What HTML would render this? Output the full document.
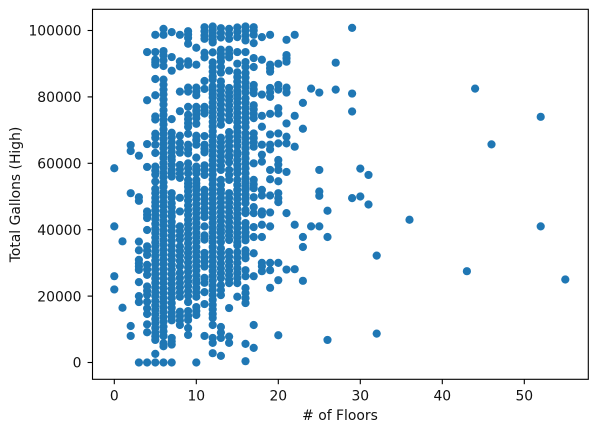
<!DOCTYPE html>
<html>
<head>
<meta charset="utf-8">
<title>Floors vs Total Gallons</title>
<style>
html,body{margin:0;padding:0;background:#fff;width:597px;height:432px;overflow:hidden}
svg{display:block}
text{font-family:"DejaVu Sans","Liberation Sans",sans-serif;font-size:13.9px;fill:#111}
</style>
</head>
<body>
<svg id="chart" width="597" height="432" viewBox="0 0 597 432" xmlns="http://www.w3.org/2000/svg">
<g id="points"></g>
<g id="axes"></g>
<text x="340" y="420" text-anchor="middle"># of Floors</text>
<text x="0" y="0" text-anchor="middle" transform="translate(20,194.5) rotate(-90)">Total Gallons (High)</text>
</svg>
<script>
const xTicks = [0, 10, 20, 30, 40, 50];
const yTicks = [0, 20000, 40000, 60000, 80000, 100000];

// Gallons (thousands) read per floor count
const f0 = [58.5, 41, 26, 22];
const f1 = [36.5, 16.5];
const f2 = [65.5, 63.7, 51, 11, 8];
const f3 = [62.3, 49.8, 48.7, 36.4, 33.8, 30.9, 29.9, 28.9, 27.9, 24.2, 20, 18.2, 0];
const f4 = [93.5, 79, 65.8, 58.9, 45.5, 44.5, 43.5, 39.9, 35, 33.7, 32.4, 29.4, 28, 26.4, 22.9, 21.6, 20.4, 18.3, 16.3, 14.6, 11.5, 9.1, 0];
const f5 = [98.7, 93.5, 91.2, 90.4, 89.7, 85.4, 80.5, 74.1, 73.2, 68.9, 67.7, 65.6, 63.1, 59, 57.8, 56.6, 54.5, 52.3, 51, 49.6, 48.3, 47.1, 45.8, 44.5, 43.2, 41.8, 40.3, 39, 37.6, 36.2, 34.9, 33.5, 32.1, 30.7, 29.5, 28, 26.6, 25.3, 24, 22.6, 21.2, 20, 18.5, 17.2, 15.9, 14.5, 13.1, 11.8, 10.4, 9, 7.9, 6.8, 2.6, 0];
const f6 = [100.5, 98.7, 93.8, 92.5, 91, 89.3, 85.2, 83.7, 82.2, 80.8, 79.2, 77.7, 76, 74.6, 73.1, 71.7, 70.2, 68.8, 67.3, 65.9, 64.5, 63, 61.6, 60.1, 58.7, 57.2, 55.8, 54.3, 52.9, 51.4, 50, 48.5, 47.1, 45.6, 44.2, 42.7, 41.3, 39.8, 38.4, 36.9, 35.5, 34, 32.6, 31.1, 29.7, 28.2, 26.8, 25.3, 23.9, 22.4, 21, 19.5, 18.1, 16.6, 15.2, 13.7, 12.3, 10.8, 9.4, 8, 5.8, 4.9, 0];
const f7 = [99.5, 92, 87.9, 73.3, 69.2, 67.8, 66.3, 64.8, 63.4, 62, 61, 59.5, 58, 56.9, 56, 51, 49.6, 48, 46.7, 45.2, 44, 42.4, 41, 39.6, 38.1, 36.7, 35.2, 33.8, 32.3, 30.9, 29.4, 28, 26.6, 25.1, 23.7, 22.2, 20.8, 19.4, 17.9, 16.5, 15, 13.8, 12.7, 7.4, 6.4, 5.4, 0];
const f8 = [98.7, 90.7, 89.2, 81.6, 75.7, 68.3, 66.2, 64.7, 63.2, 59.5, 58.2, 56.9, 55.6, 49.6, 45.5, 41, 39.6, 38.2, 37, 35, 33.6, 32.1, 30.6, 28.9, 27, 25.5, 24, 22.6, 21.1, 19.8, 15.3, 14, 12.7, 11.3];
const f9 = [99.8, 98.8, 97.8, 96, 90.7, 89.7, 82.8, 81.6, 77, 74.6, 73.3, 72.1, 71, 68.9, 65.6, 64.2, 63, 60, 58.5, 57, 55, 53.9, 52.9, 51.6, 50.2, 48.8, 47.3, 45.9, 44.5, 43, 41.6, 40.2, 38.7, 37.3, 35.9, 34.4, 33, 31.6, 30.1, 28.7, 27.3, 25.8, 24.4, 23, 21.5, 20.1, 18.2, 15.5, 14.1, 12.8, 10.4, 8.3];
const f10 = [94.8, 89.7, 82.8, 81.6, 80.5, 77, 75.8, 74.7, 73.6, 71.9, 68.3, 67, 65.6, 61.7, 59, 58, 57, 55, 54, 53, 52, 50.6, 49.2, 47.7, 46.3, 44.9, 43.4, 42, 40.6, 39.1, 37.7, 36.3, 34.8, 33.4, 32, 30.5, 29.1, 27.7, 26.2, 24.8, 24, 22.5, 21.1, 19.8, 16.7, 15.5, 14.3, 0];
const f11 = [101, 99.8, 98.5, 97.5, 93.3, 91.9, 84.8, 82.4, 77, 76, 75, 68.2, 65.6, 64.4, 63.3, 59.4, 58, 56.5, 52, 50.6, 49.3, 48, 46.5, 45.2, 43.8, 41, 38.3, 37, 33, 31.6, 30.3, 28.9, 25.5, 24, 21.2, 17.6, 8];
const f12 = [101.2, 100.2, 99.2, 98.2, 97.2, 96.4, 93.4, 90.4, 89, 87.6, 86.2, 85.2, 83.2, 82, 80.9, 79.8, 78.3, 76.9, 75.4, 74, 72.5, 71.1, 69.6, 68.2, 66.7, 65.3, 63.8, 62.4, 60.9, 59.5, 58, 56.6, 55.1, 53.7, 52.2, 50.8, 49.3, 47.9, 46.4, 45, 43.5, 42.1, 40.6, 39.2, 37.7, 36.3, 34.8, 33.4, 31.9, 30.5, 29, 27.6, 26.1, 24.7, 23.2, 21.8, 20.3, 18.9, 17.4, 16, 14.6, 13.4, 11.3, 7.4, 5.9, 2.8];
const f13 = [100.7, 99.3, 97.9, 94.2, 93, 91.9, 90.7, 89, 87.3, 84.7, 83.3, 81.9, 80.5, 79.2, 77.7, 76.2, 74.7, 73.2, 71.6, 67.7, 66.3, 64.9, 63.5, 62.1, 60.7, 59.3, 58, 55, 53.5, 52, 51, 49.6, 48.2, 46.8, 45.4, 44, 42.6, 41.2, 40, 39, 37.6, 36.3, 34.4, 33, 31.5, 29.9, 28.4, 26.9, 25.4, 23.3, 21.8, 20.3, 10.7, 9, 7.4, 2];
const f14 = [100.5, 99, 97.5, 94.2, 93, 91.9, 87.9, 82.7, 81.4, 80.2, 79, 77.5, 76, 74.5, 73, 69.4, 68, 66.6, 65.2, 63.8, 62.4, 61.8, 60.3, 58, 56.5, 55, 51, 49.6, 48.2, 46.8, 45.3, 43.8, 42.3, 40.9, 39.5, 38.2, 36.9, 33.3, 31.9, 30.5, 29.1, 27.7, 26.3, 25, 23.9, 16.4, 7.8, 5.9];
const f15 = [100.9, 99.5, 98, 93.5, 90, 87.4, 86, 84.6, 83.2, 81.8, 80.6, 79.6, 78.2, 76.7, 75.2, 73.8, 72.4, 70.9, 69.5, 68.1, 66.7, 65.2, 63.4, 62.5, 61, 59.5, 58.2, 57, 55, 53.5, 52, 50.6, 49.2, 47.7, 46.3, 44.8, 43.4, 41.9, 40.5, 39, 37.6, 36.2, 35.3, 33.2, 31.6, 30, 28.4, 26.9, 25.4, 23.9, 19.8];
const f16 = [101.2, 100, 98.5, 97, 93.5, 90.5, 89, 87.2, 85.8, 84.3, 82.9, 81.4, 79.6, 78.2, 76.7, 75.2, 73.7, 72.3, 70.9, 69, 67.5, 66, 64.5, 63, 61.5, 60, 58.5, 57, 55.5, 54.2, 53, 52, 50.6, 49.3, 48, 45.9, 45, 42, 40.6, 39.2, 38, 36.8, 33.8, 32.6, 31.4, 27.8, 26, 22.4, 20.9, 19.4, 17.9, 5.6, 0.4];
const f17 = [101, 100, 98.7, 96.2, 91.7, 89, 83.6, 82.3, 81.1, 77.5, 76.2, 74.9, 73.6, 69, 67.6, 66.3, 65, 60, 55, 53.7, 52.5, 49.8, 46.8, 45, 40.8, 37.8, 32.9, 26, 11.3, 4.4];
const f18 = [98, 91.2, 80.7, 74.3, 71, 65.6, 62.6, 60.5, 52, 50.3, 45.5, 44.6, 41.5, 37.8, 30, 29, 27.5];
const f19 = [98.7, 89.7, 88.6, 87.6, 82.7, 81.4, 80, 74.9, 68.7, 65.6, 64.2, 58, 55.2, 50.3, 45.2, 41, 30, 27.8, 22.5];
const f20 = [90, 83.6, 82.2, 76.6, 75, 69, 66, 61, 59.6, 58, 54.6, 51, 49.5, 48.3, 30, 24.8, 8.2];
const f21 = [97.2, 92.6, 91.6, 90.6, 82.8, 81.3, 72, 68, 66, 57.4, 45, 28];
const f22 = [98.7, 74.3, 65, 41.5, 28.1];
const f23 = [78.2, 70.4, 37.8, 34.8, 24.6];
const f24 = [82.5, 41];
const f25 = [81.3, 58, 51.5, 50.2, 41];
const f26 = [45.7, 37.8, 6.8];
const f27 = [90.3, 82.2];
const f29 = [100.8, 81, 75.6, 49.5];
const f30 = [58.4, 50];
const f31 = [56.5, 47.6];
const f32 = [32.2, 8.7];
const f36 = [43];
const f43 = [27.5];
const f44 = [82.5];
const f46 = [65.7];
const f52 = [74, 41];
const f55 = [25];

const floorCounts = [0,1,2,3,4,5,6,7,8,9,10,11,12,13,14,15,16,17,18,19,20,21,22,23,24,25,26,27,29,30,31,32,36,43,44,46,52,55];
const gallonSeries = [f0,f1,f2,f3,f4,f5,f6,f7,f8,f9,f10,f11,f12,f13,f14,f15,f16,f17,f18,f19,f20,f21,f22,f23,f24,f25,f26,f27,f29,f30,f31,f32,f36,f43,f44,f46,f52,f55];

const NS = 'http://www.w3.org/2000/svg';
const box = {left: 92.5, right: 588.3, top: 9.3, bottom: 379.3};
function xScale(floors) { return 114.3 + floors * 8.2; }
function yScale(gallons) { return 362.5 - gallons * 0.00332; }
function make(tag, attrs, parent) {
  const el = document.createElementNS(NS, tag);
  for (const k in attrs) el.setAttribute(k, attrs[k]);
  parent.appendChild(el);
  return el;
}

const pointsG = document.getElementById('points');
floorCounts.forEach(function (floors, i) {
  gallonSeries[i].forEach(function (k) {
    const c = make('circle', {cx: xScale(floors), cy: yScale(k * 1000), r: 4.1, fill: '#1f77b4'}, pointsG);
    
    
  });
});

const axesG = document.getElementById('axes');
const frame = make('rect', {x: box.left, y: box.top, width: box.right - box.left, height: box.bottom - box.top, fill: 'none', stroke: '#000', 'stroke-width': 1.1}, axesG);



xTicks.forEach(function (t) {
  const x = xScale(t);
  const mark = make('line', {x1: x, x2: x, y1: box.bottom, y2: box.bottom + 4.9, stroke: '#000', 'stroke-width': 1.1}, axesG);
  
  
  const label = make('text', {x: x, y: 400.5, 'text-anchor': 'middle'}, axesG);
  label.textContent = String(t);
  
  
});

yTicks.forEach(function (t) {
  const y = yScale(t);
  const mark = make('line', {x1: box.left - 4.9, x2: box.left, y1: y, y2: y, stroke: '#000', 'stroke-width': 1.1}, axesG);
  
  
  const label = make('text', {x: 81.5, y: y + 5.2, 'text-anchor': 'end'}, axesG);
  label.textContent = String(t);
  
  
});
</script>
</body>
</html>
